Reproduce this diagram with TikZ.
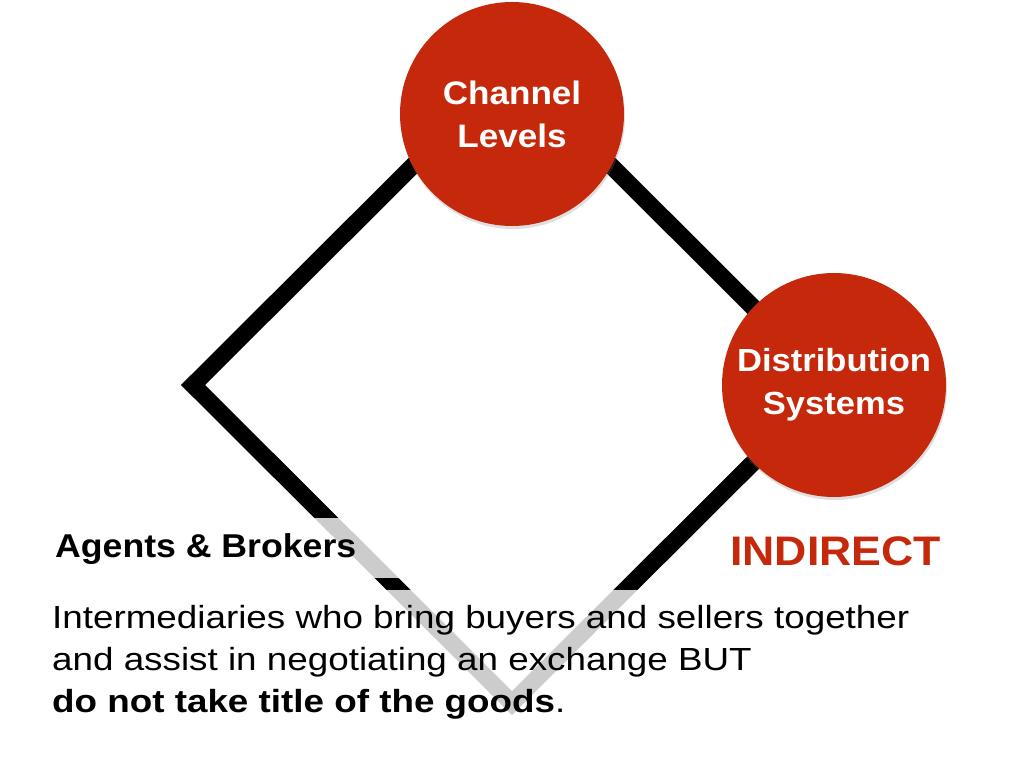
\documentclass[tikz,border=0pt]{standalone}
\usepackage{fontspec}
\setmainfont{Liberation Sans}
\newfontfamily\widesans{Liberation Sans}[FakeStretch=1.08]
\newfontfamily\parasans{Liberation Sans}[FakeStretch=1.15]
\usetikzlibrary{shadows}
\definecolor{brickred}{HTML}{C5280B}
\tikzset{
  bubble/.style={circle, fill=brickred, minimum size=224pt, inner sep=0pt,
    text=white, align=center, font=\widesans\bfseries\fontsize{32.5}{43}\selectfont,
    drop shadow={opacity=0.25, shadow xshift=1pt, shadow yshift=-3pt}},
  frame/.style={line width=17pt, line join=miter, draw=black},
  veil/.style={fill=white, fill opacity=0.8, draw=none},
  para/.style={anchor=base west, inner sep=0pt, font=\parasans\fontsize{32}{42}\selectfont},
}
\begin{document}
\begin{tikzpicture}[x=1pt,y=-1pt]
\useasboundingbox (0,0) rectangle (1024,768);
% diamond
\coordinate (dt) at (512,67);
\coordinate (dl) at (193,385);
\coordinate (db) at (512,703);
\coordinate (dr) at (831,385);
\draw[frame] (dt) -- (dl) -- (db) -- (dr) -- cycle;
% circles
\node[bubble] (cl) at (512,114) {Channel\\Levels};
\node[bubble, font=\widesans\bfseries\fontsize{32}{43}\selectfont] (ds) at (834,385) {Distribution\\Systems};
% translucent panels behind texts
\fill[veil] (45,518) rectangle (432,578);
\fill[veil] (45,590) rectangle (915,738);
% texts
\node[anchor=base west, inner sep=0pt, font=\widesans\bfseries\fontsize{33}{36}\selectfont] (ab) at (55,557) {Agents \& Brokers};
\node[anchor=base west, inner sep=0pt, text=brickred, font=\widesans\bfseries\fontsize{41.3}{48}\selectfont] (ind) at (730,565) {INDIRECT};
\node[para] (p1) at (52,628) {Intermediaries who bring buyers and sellers together};
\node[para] (p2) at (52,670) {and assist in negotiating an exchange BUT};
\node[para] (p3) at (52,712) {{\bfseries do not take title of the goods}.};
\end{tikzpicture}
\end{document}
